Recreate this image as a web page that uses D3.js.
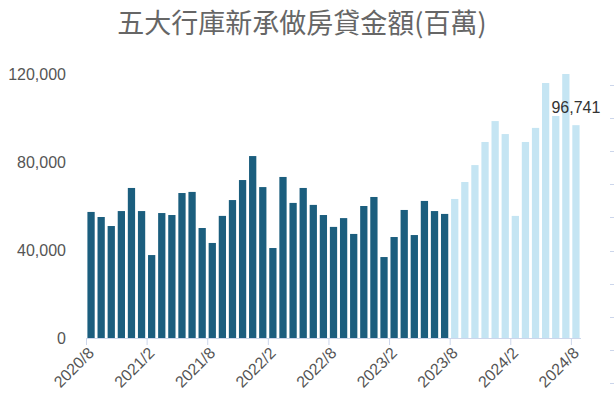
<!DOCTYPE html>
<html>
<head>
<meta charset="utf-8">
<script src="https://cdn.jsdelivr.net/npm/d3@7"></script>
<style>
  body { margin: 0; background: #fff; }
  text { font-family: "Liberation Sans", Arial, sans-serif; }
</style>
</head>
<body>
<div id="chart"></div>
<script>
const title = "五大行庫新承做房貸金額(百萬)";

// months 2020/8 .. 2024/8
const months = [];
for (let y = 2020, m = 8; y < 2024 || (y === 2024 && m <= 8); m++) {
  if (m > 12) { m = 1; y++; }
  months.push(y + "/" + m);
}

// new mortgage amount, million NTD
const loans = [
  57300, 55000, 50900, 57700, 68200, 57700, 37700, 56800, 55900, 65900, 66400, 50000,
  43200, 55500, 62700, 71800, 82700, 68600, 40900, 73200, 61400, 68200, 60500, 55900,
  50500, 54500, 47300, 60000, 64100, 36800, 45900, 58200, 46800, 62300, 57700, 56400,
  63200, 70900, 78600, 89100, 98600, 92700, 55500, 89100, 95500, 115900, 100900, 120000,
  96741
];

const highlightFrom = "2023/8";
const xTickLabels = ["2020/8", "2021/2", "2021/8", "2022/2", "2022/8", "2023/2", "2023/8", "2024/2", "2024/8"];
const yTicks = [0, 40000, 80000, 120000];
const lastLabel = "96,741";

const width = 614;
const height = 406;
const darkColor = "#1b5e7e";
const lightColor = "#c5e5f3";
const axisColor = "#ccd6eb";

const svg = d3.select('#chart')
  .append('svg')
  .attr('width', width)
  .attr('height', height)

//Title
svg.append('text')
  .attr('x', 302)
  .attr('y', 33)
  .attr('text-anchor', 'middle')
  .style('font-family', '"Noto Sans CJK TC", "Noto Sans CJK SC", sans-serif')
  .style('font-size', '27px')
  .attr('fill', '#666')
  .text(title)

const x = d3.scaleBand()
  .domain(months)
  .range([86, 581])
  .paddingInner(0.28)
  .paddingOuter(0.14)

const y = d3.scaleLinear()
  .domain([0, 120000])
  .range([338, 74])

const slotLeft = d => x(d) - x.step() * 0.14;
const hiIndex = months.indexOf(highlightFrom);

//Bars
svg.append('g')
  .selectAll('rect')
  .data(loans)
  .enter().append('rect')
  .attr('x', (d, i) => x(months[i]))
  .attr('width', x.bandwidth())
  .attr('y', d => y(d))
  .attr('height', d => y(0) - y(d))
  .attr('fill', (d, i) => i >= hiIndex ? lightColor : darkColor)

//X axis
const xAxis = svg.append('g')
xAxis.append('line')
  .attr('x1', 86).attr('x2', 581)
  .attr('y1', 338.5).attr('y2', 338.5)
  .attr('stroke', axisColor)
xAxis.selectAll('line.tick')
  .data(xTickLabels)
  .enter().append('line')
  .attr('class', 'tick')
  .attr('x1', d => slotLeft(d) + 0.5).attr('x2', d => slotLeft(d) + 0.5)
  .attr('y1', 338.5).attr('y2', 345)
  .attr('stroke', axisColor)
xAxis.selectAll('text')
  .data(xTickLabels)
  .enter().append('text')
  .attr('text-anchor', 'end')
  .attr('transform', d => `translate(${x(d) + x.bandwidth() / 2 + 4},${354}) rotate(-45)`)
  .style('font-size', '16px')
  .attr('fill', '#555')
  .text(d => d)

//Y axis labels
svg.append('g')
  .selectAll('text')
  .data(yTicks)
  .enter().append('text')
  .attr('x', 66)
  .attr('y', d => y(d))
  .attr('dy', '0.35em')
  .attr('text-anchor', 'end')
  .style('font-size', '16px')
  .attr('fill', '#555')
  .text(d => d3.format(',')(d))

//Right axis (ticks only)
const yRight = d3.scaleLinear().domain([0, 9]).range([383, 85])
svg.append('g')
  .selectAll('line')
  .data(yRight.ticks(9))
  .enter().append('line')
  .attr('x1', 610).attr('x2', 614)
  .attr('y1', d => Math.round(yRight(d)) + 0.5)
  .attr('y2', d => Math.round(yRight(d)) + 0.5)
  .attr('stroke', axisColor)

//Last value label
const lastMonth = months[months.length - 1];
svg.append('text')
  .attr('x', x(lastMonth) + x.bandwidth() / 2)
  .attr('y', y(loans[loans.length - 1]) - 12)
  .attr('text-anchor', 'middle')
  .style('font-size', '16px')
  .attr('fill', '#333')
  .text(lastLabel)
</script>
</body>
</html>
